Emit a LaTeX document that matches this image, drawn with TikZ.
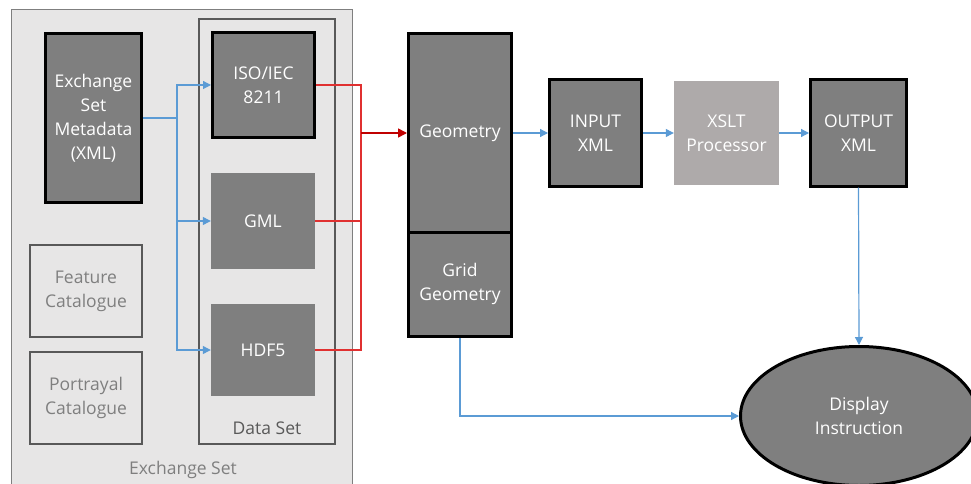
\documentclass[tikz,border=0pt]{standalone}
\usepackage{fontspec}
\setmainfont{Open Sans}
\usetikzlibrary{arrows.meta,shapes.geometric}
\definecolor{boxgray}{HTML}{7F7F7F}
\definecolor{bggray}{HTML}{E7E6E6}
\definecolor{xsltgray}{HTML}{AEAAAA}
\definecolor{linkblue}{HTML}{5B9BD5}
\definecolor{linkred}{HTML}{E03030}
\definecolor{reddark}{HTML}{C00000}
\definecolor{txtgray}{HTML}{7F7F7F}
\definecolor{framegray}{HTML}{595959}
\tikzset{
  lbl/.style={font=\fontsize{17.5}{24}\selectfont, align=center},
  darkbox/.style={lbl, rectangle, fill=boxgray, text=white, inner sep=0pt},
  thickbox/.style={darkbox, draw=black, line width=3pt},
  catbox/.style={lbl, rectangle, draw=framegray, line width=1.2pt, fill=bggray, text=txtgray, inner sep=0pt},
  bluelink/.style={draw=linkblue, line width=1.2pt, -{Triangle[length=8pt,width=8pt]}},
  bluebus/.style={draw=linkblue, line width=1.2pt},
  redlink/.style={draw=linkred, line width=1.2pt},
  redarrow/.style={draw=reddark, line width=1.5pt, -{Triangle[length=9pt,width=9pt]}},
}
\begin{document}
\begin{tikzpicture}[x=1pt,y=-1pt]
\useasboundingbox (0,0) rectangle (971,484);
\clip (0,0) rectangle (971,484);
\fill[white] (0,0) rectangle (971,484);
% Exchange Set container
\node[draw=boxgray, line width=1.2pt, fill=bggray, minimum width=341pt, minimum height=500pt, inner sep=0pt, anchor=north west] (exset) at (11,9) {};
\node[lbl, text=txtgray] (exsetlbl) at (183,470) {Exchange Set};
% Data Set container
\node[draw=framegray, line width=1.2pt, fill=bggray, minimum width=136pt, minimum height=425pt, inner sep=0pt] (dataset) at (267,231.5) {};
\node[lbl, text=framegray] (datasetlbl) at (267,428) {Data Set};
% boxes
\node[thickbox, minimum width=96pt, minimum height=169pt] (meta) at (93.5,118) {Exchange\\Set\\Metadata\\(XML)};
\node[thickbox, minimum width=102pt, minimum height=104pt] (iso) at (263.5,85) {ISO/IEC\\8211};
\node[darkbox, minimum width=104pt, minimum height=96pt] (gml) at (263,221) {GML};
\node[darkbox, minimum width=104pt, minimum height=92pt] (hdf) at (263,350) {HDF5};
\node[catbox, minimum width=112pt, minimum height=92pt] (feat) at (86,291) {Feature\\Catalogue};
\node[catbox, minimum width=112pt, minimum height=92pt] (port) at (86,398) {Portrayal\\Catalogue};
\node[thickbox, minimum width=103pt, minimum height=198pt] (geom) at (460,133) {Geometry};
\node[thickbox, minimum width=103pt, minimum height=104.5pt] (grid) at (460,284.25) {Grid\\Geometry};
\node[thickbox, minimum width=92pt, minimum height=106pt] (input) at (595.5,133) {INPUT\\XML};
\node[darkbox, fill=xsltgray, minimum width=105pt, minimum height=104pt] (xslt) at (726.5,133) {XSLT\\Processor};
\node[thickbox, minimum width=96pt, minimum height=106pt] (output) at (858.5,133) {OUTPUT\\XML};
\node[thickbox, ellipse, minimum width=237pt, minimum height=139pt] (disp) at (859,416) {Display\\Instruction};
% blue connectors from metadata
\coordinate (bj) at (177,118);
\draw[bluebus] (meta.east) -- (bj);
\draw[bluelink] (bj) |- (iso.west);
\draw[bluelink] (bj) |- (gml.west);
\draw[bluelink] (bj) |- (hdf.west);
% red connectors
\coordinate (rj) at (361,133);
\draw[redlink] (iso.east) -| (rj);
\draw[redlink] (gml.east) -| (rj);
\draw[redlink] (hdf.east) -| (rj);
\draw[redarrow] (rj) -- (geom.west);
% pipeline
\draw[bluelink] (geom.east) -- (input.west);
\draw[bluelink] (input.east) -- (xslt.west);
\draw[bluelink] (xslt.east) -- (output.west);
\draw[bluelink] (output.south) -- (disp.north);
\draw[bluelink] (grid.south) |- (disp.west);
\end{tikzpicture}
\end{document}
